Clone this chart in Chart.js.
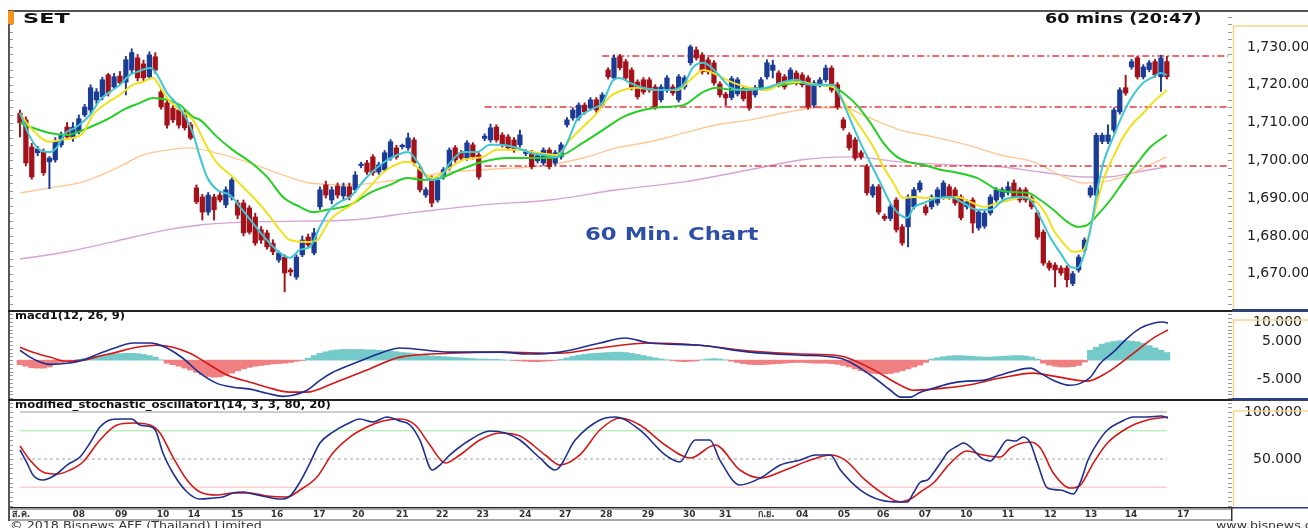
<!DOCTYPE html>
<html><head><meta charset="utf-8">
<script src="https://cdn.jsdelivr.net/npm/chart.js@4.4.1/dist/chart.umd.min.js"></script>
<style>
html,body{margin:0;padding:0;background:#fff;width:1308px;height:528px;overflow:hidden;position:relative;font-family:'DejaVu Sans',Arial,sans-serif;}
canvas{position:absolute;left:0;}
.t{position:absolute;white-space:nowrap;color:#111;font-weight:bold;z-index:5;line-height:1;transform-origin:0 0;}
.ln{position:absolute;z-index:6;}
</style></head><body>
<canvas id="cPrice" width="1318" height="299" style="top:11px;width:1318px;height:299px"></canvas>
<canvas id="cMacd" width="1318" height="88" style="top:311px;width:1318px;height:88px"></canvas>
<canvas id="cStoch" width="1318" height="121" style="top:400px;width:1318px;height:121px"></canvas>

<div class="ln" style="left:8px;top:10px;width:1300px;height:1.5px;background:#555"></div>
<div class="ln" style="left:8px;top:10px;width:1.5px;height:511px;background:#555"></div>
<div class="ln" style="left:8px;top:309.5px;width:1224px;height:2px;background:#222"></div>
<div class="ln" style="left:1232px;top:309px;width:76px;height:2px;background:#2a3d8c"></div>
<div class="ln" style="left:1232px;top:311px;width:76px;height:1px;background:#444"></div>
<div class="ln" style="left:8px;top:398.5px;width:1224px;height:2px;background:#222"></div>
<div class="ln" style="left:1232px;top:398px;width:76px;height:2px;background:#2a3d8c"></div>
<div class="ln" style="left:1232px;top:400px;width:76px;height:1px;background:#444"></div>

<div class="ln" style="left:8px;top:11px;width:6px;height:13px;background:#f7941d"></div>
<div class="t" style="left:23px;top:11px;font-size:14px;transform:scaleX(1.6);">SET</div>
<div class="t" style="left:1045px;top:11px;font-size:14px;transform:scaleX(1.26);">60 mins (20:47)</div>
<div class="t" style="left:585px;top:226px;font-size:17px;color:#2d4fa8;transform:scaleX(1.34);">60 Min. Chart</div>
<div class="t" style="left:15px;top:311px;font-size:10px;transform:scaleX(1.15);">macd1(12, 26, 9)</div>
<div class="t" style="left:15px;top:400px;font-size:10px;transform:scaleX(1.17);">modified_stochastic_oscillator1(14, 3, 3, 80, 20)</div>
<div class="t" style="left:10px;top:520px;font-size:11px;font-weight:normal;color:#333;transform:scaleX(1.15);">© 2018 Bisnews AFE (Thailand) Limited</div>
<div class="t" style="left:1216px;top:520px;font-size:11px;font-weight:normal;color:#333;transform:scaleX(1.15);">www.bisnews.com</div>

<script>
// ---------- DATA ----------
const xMin = -1.7, xMax = 205.4;
const dayLabels = ['ส.ค.','08','09','10','14','15','16','17','20','21','22','23','24','27','28','29','30','31','ก.ย.','04','05','06','07','10','11','12','13','14','17'];
const dayTickPos = [0.2,10.0,17.2,24.3,29.6,36.9,43.7,50.9,57.5,65.0,71.8,78.7,85.9,92.7,99.7,106.8,113.8,119.9,126.9,133.0,140.1,146.8,153.9,160.9,168.0,175.2,182.1,188.9,197.8];

const priceMin = 1660.4, priceMax = 1739.5;
const priceTicks = [1670,1680,1690,1700,1710,1720,1730];
const macdMin = -10.2, macdMax = 12.9;
const macdTicks = [10,5,-5];
const stochMin = -1.06, stochMax = 112.8;
const stochTicks = [100,50];
const stochLevels = [100,80,50,20];

// candles: [open, high, low, close]
const candles = [
[1712.5,1713.3,1706.2,1709.9],[1710.7,1711.5,1698.5,1699.3],[1703.5,1704.5,1695.0,1695.6],[1702.0,1703.7,1701.2,1703.0],
[1702.2,1703.0,1696.0,1696.7],[1699.6,1701.0,1692.5,1700.6],[1700.1,1706.0,1699.5,1704.9],[1704.1,1707.5,1703.5,1706.7],
[1708.8,1710.0,1705.5,1706.2],[1705.9,1710.0,1705.0,1708.8],[1707.5,1712.0,1707.0,1711.0],[1712.0,1714.8,1711.5,1714.1],
[1713.3,1720.0,1712.5,1719.2],[1716.0,1719.0,1715.0,1718.1],[1716.8,1722.0,1716.0,1721.3],[1722.6,1723.0,1717.0,1717.8],
[1719.4,1723.0,1719.0,1722.1],[1722.3,1723.5,1720.0,1720.5],[1720.7,1727.5,1717.3,1726.6],[1723.9,1729.5,1723.0,1728.5],
[1727.1,1728.0,1721.0,1721.8],[1725.5,1726.5,1721.0,1721.8],[1722.1,1728.7,1721.5,1727.9],[1727.4,1728.5,1723.0,1723.9],
[1718.1,1719.0,1713.5,1714.1],[1715.2,1716.0,1708.5,1709.3],[1713.8,1714.5,1710.0,1710.7],[1713.3,1714.0,1708.5,1709.3],
[1712.5,1713.5,1708.0,1708.6],[1709.4,1710.0,1705.5,1705.9],[1692.7,1693.5,1688.5,1689.0],[1690.3,1691.0,1684.2,1686.3],
[1686.3,1691.5,1685.5,1690.8],[1690.3,1691.0,1684.2,1686.9],[1690.8,1691.5,1689.0,1689.5],[1688.2,1693.0,1687.5,1692.2],
[1690.3,1695.3,1689.5,1694.8],[1688.7,1689.5,1684.5,1685.5],[1688.7,1689.5,1680.0,1680.8],[1687.4,1688.0,1680.5,1681.0],
[1685.0,1686.0,1677.5,1678.1],[1681.6,1682.5,1678.0,1678.9],[1680.8,1681.5,1676.5,1677.1],[1678.1,1679.0,1675.0,1675.8],
[1673.6,1676.0,1673.0,1675.5],[1674.4,1675.0,1665.2,1670.2],[1671.0,1671.5,1669.5,1670.5],[1669.1,1675.0,1668.5,1674.4],
[1675.0,1680.0,1674.5,1678.9],[1679.7,1680.5,1677.0,1677.6],[1675.5,1682.0,1675.0,1680.8],[1687.7,1693.0,1687.0,1692.2],
[1693.5,1694.5,1690.0,1690.8],[1689.5,1693.0,1688.5,1692.2],[1693.2,1694.0,1690.0,1690.8],[1690.6,1694.0,1689.5,1693.0],
[1693.0,1694.0,1689.5,1690.3],[1692.2,1697.0,1691.5,1696.1],[1698.6,1699.5,1698.0,1698.9],[1699.3,1700.0,1696.3,1696.9],
[1700.9,1701.5,1696.0,1696.7],[1696.9,1699.5,1696.3,1698.8],[1697.5,1702.6,1697.0,1702.0],[1700.6,1705.5,1700.0,1704.9],
[1703.3,1704.0,1700.3,1700.9],[1703.6,1704.3,1703.0,1703.8],[1703.3,1707.2,1702.7,1705.9],[1705.4,1706.0,1698.7,1699.3],
[1698.0,1698.6,1691.6,1692.2],[1690.8,1692.8,1690.2,1692.2],[1695.3,1695.9,1687.7,1688.7],[1689.5,1695.4,1688.9,1694.8],
[1695.6,1698.1,1695.0,1697.5],[1698.0,1703.3,1697.4,1702.7],[1703.3,1703.9,1699.5,1700.1],[1702.0,1702.6,1700.0,1700.6],
[1700.6,1705.2,1700.0,1704.6],[1704.1,1704.7,1700.3,1700.9],[1701.4,1702.0,1695.0,1695.6],[1705.8,1707.0,1705.2,1706.4],
[1705.4,1709.6,1704.8,1708.6],[1708.8,1709.4,1704.8,1705.4],[1706.7,1707.3,1703.5,1704.1],[1706.2,1706.8,1702.7,1703.3],
[1705.4,1706.0,1702.1,1702.7],[1704.1,1708.0,1703.5,1706.7],[1701.8,1702.8,1701.2,1702.2],[1702.0,1702.6,1697.7,1698.3],
[1699.9,1701.8,1699.3,1701.2],[1699.3,1703.3,1698.7,1702.7],[1702.7,1703.3,1697.7,1698.3],[1699.3,1702.6,1698.7,1702.0],
[1700.9,1704.7,1700.3,1704.1],[1709.4,1711.3,1708.8,1710.7],[1711.2,1713.9,1710.6,1713.3],[1711.2,1715.2,1710.6,1714.6],
[1714.6,1715.2,1712.2,1712.8],[1713.8,1716.6,1713.2,1716.0],[1716.0,1716.6,1712.7,1713.3],[1714.6,1717.9,1714.0,1717.3],
[1723.9,1724.5,1721.5,1722.1],[1721.8,1727.9,1721.2,1727.1],[1727.4,1728.0,1723.9,1724.5],[1726.1,1726.7,1721.2,1721.8],
[1723.9,1724.5,1718.6,1719.2],[1720.7,1721.3,1716.2,1716.8],[1721.3,1721.9,1717.5,1718.1],[1721.3,1721.9,1718.0,1718.6],
[1719.4,1720.0,1713.5,1714.1],[1716.0,1720.0,1715.4,1719.4],[1718.6,1722.4,1718.0,1721.8],[1719.4,1720.0,1717.2,1717.8],
[1716.0,1722.7,1715.4,1722.1],[1719.4,1722.4,1718.8,1721.8],[1725.8,1730.5,1725.2,1730.0],[1729.2,1730.0,1726.5,1727.1],
[1727.9,1728.5,1722.8,1723.4],[1726.6,1727.2,1722.8,1723.4],[1725.8,1726.4,1719.9,1720.5],[1720.2,1720.8,1716.7,1717.3],
[1717.5,1718.0,1714.5,1716.5],[1716.6,1722.2,1716.0,1721.6],[1717.6,1721.9,1717.0,1721.3],[1719.0,1719.6,1715.7,1716.3],
[1718.6,1719.2,1713.2,1713.8],[1717.3,1719.8,1716.7,1719.2],[1719.2,1721.9,1718.6,1721.3],[1722.1,1726.6,1721.5,1725.8],
[1723.8,1726.5,1721.8,1725.2],[1723.1,1723.7,1719.4,1720.0],[1722.1,1722.7,1718.8,1719.4],[1721.3,1724.5,1720.7,1723.9],
[1723.1,1723.7,1719.9,1720.5],[1722.6,1723.2,1719.4,1720.0],[1721.8,1722.4,1713.5,1714.1],[1714.6,1721.1,1714.0,1720.5],
[1720.0,1721.9,1719.4,1721.3],[1721.3,1725.2,1720.7,1724.4],[1724.4,1725.0,1718.0,1718.6],[1720.0,1720.6,1713.5,1714.1],
[1710.7,1711.3,1708.0,1708.6],[1706.7,1707.3,1702.7,1703.3],[1705.4,1706.0,1700.0,1700.6],[1702.0,1702.6,1700.3,1700.9],
[1698.3,1698.9,1690.8,1691.4],[1690.8,1693.6,1690.2,1693.0],[1693.0,1693.6,1685.7,1686.3],[1685.2,1685.8,1684.0,1684.6],
[1684.6,1688.3,1684.0,1687.7],[1689.5,1690.1,1681.0,1681.6],[1682.4,1683.0,1677.5,1678.1],[1682.4,1690.9,1677.1,1690.3],
[1687.7,1692.8,1687.1,1692.2],[1692.2,1694.6,1691.6,1694.0],[1687.7,1688.3,1685.5,1686.1],[1687.7,1690.9,1687.1,1690.3],
[1688.7,1692.8,1688.1,1692.2],[1690.3,1694.6,1689.7,1694.0],[1693.0,1693.6,1689.7,1690.3],[1692.2,1692.8,1688.1,1688.7],
[1690.3,1690.9,1684.2,1684.8],[1687.7,1689.6,1687.1,1689.0],[1689.5,1690.1,1680.8,1683.4],[1682.1,1686.9,1681.5,1686.3],
[1682.6,1686.6,1682.0,1686.0],[1686.1,1690.9,1685.5,1690.3],[1689.5,1692.8,1688.9,1692.2],[1690.3,1692.8,1689.7,1692.2],
[1691.4,1694.3,1690.8,1693.0],[1694.0,1694.8,1689.7,1690.3],[1692.2,1692.8,1688.9,1689.5],[1692.2,1692.8,1688.9,1689.5],
[1690.0,1690.6,1687.1,1687.7],[1686.1,1686.7,1679.1,1679.7],[1681.0,1681.6,1672.2,1672.8],[1672.8,1673.4,1670.9,1671.5],
[1672.3,1672.9,1666.5,1671.0],[1671.5,1672.1,1669.6,1670.2],[1671.5,1672.1,1666.5,1668.4],[1667.4,1670.6,1666.8,1670.0],
[1671.0,1675.0,1670.4,1674.4],[1676.3,1679.5,1675.7,1678.9],[1690.8,1693.3,1690.2,1692.7],[1690.8,1707.2,1690.2,1706.6],
[1705.0,1707.2,1704.4,1706.6],[1705.0,1709.4,1704.4,1706.7],[1708.0,1713.9,1707.4,1713.3],[1712.8,1719.2,1712.2,1718.6],
[1719.2,1722.5,1717.2,1717.8],[1724.7,1726.7,1724.1,1726.1],[1727.1,1727.5,1721.5,1722.1],[1722.1,1725.3,1721.5,1724.7],
[1724.0,1726.4,1723.4,1725.8],[1726.1,1726.7,1722.0,1722.6],[1722.1,1727.8,1718.2,1727.1],[1726.1,1727.5,1721.5,1722.1]
];

// moving averages: [candle index, price]
const maCyan = [[0,1712.5],[1.7,1706.2],[3.4,1702.7],[5.1,1702.2],[6.3,1703.5],[7.7,1707.2],[9.4,1708.6],[11.9,1712],[13.6,1716],[15.3,1718.1],[17,1720],[18.7,1722.6],[19.9,1723.4],[22.1,1724.4],[23,1723.4],[23.8,1721.3],[25,1717.8],[26.4,1715.4],[28.4,1710.7],[29.4,1707.2],[30.6,1700.9],[31.8,1695.6],[33.5,1692.2],[35.7,1690.8],[37.4,1687.7],[39.6,1683.4],[42,1678.9],[44.2,1675.5],[45.9,1674.2],[47.6,1676.3],[49.3,1677.1],[51,1682.4],[52.7,1686.9],[54.4,1689],[56.1,1690.3],[59,1695.6],[61.7,1699.3],[64.1,1701.4],[66,1702.2],[67.7,1699.3],[69.7,1694.8],[71.4,1695.3],[73.1,1699.3],[75.3,1702.2],[77.7,1702.2],[79.9,1704.1],[81.6,1704.1],[84.5,1703.3],[86.7,1702],[88.9,1701.4],[91.3,1700.9],[93,1704.6],[94.7,1710.7],[96.9,1713.3],[99.1,1715.4],[100.9,1721.3],[102,1721.8],[103.7,1720.5],[106,1719.2],[108.3,1718.6],[110.5,1718.6],[112.8,1720],[114.5,1724.7],[116.2,1725.8],[118.5,1723.1],[120.7,1719.4],[123,1718.6],[127,1719.2],[129.8,1720.7],[132.1,1721.3],[134.4,1720],[138.3,1720],[139.5,1716.8],[141.2,1710.7],[142.9,1704.6],[144.6,1699.3],[146.3,1694],[148,1688.7],[149.7,1685.5],[150.9,1684.8],[151.9,1687.4],[153.6,1688.7],[156,1690],[158.2,1690.3],[160.4,1688.7],[162.8,1686.9],[165,1686.9],[167.2,1689.5],[169.6,1690.3],[171.8,1689.5],[173.5,1684.8],[175.2,1679.5],[176.9,1675.5],[178.6,1671.8],[179.8,1671.5],[180.8,1674.4],[182,1681.6],[183.2,1692.2],[184.2,1699.3],[185.9,1706.2],[187.6,1712.5],[189.3,1717.3],[191,1720.5],[192.7,1722.1],[193.9,1723.1],[195,1722.6]];
const maYellow = [[0,1712.5],[1.7,1708.8],[5.1,1704.9],[6.8,1705.4],[9,1705.9],[10.7,1707.2],[12.4,1712],[14.8,1715.2],[17,1717.3],[19.2,1720],[20.9,1720.7],[22.6,1721.8],[23.8,1719.4],[25,1716.5],[27.2,1713.3],[29.4,1710.7],[31.8,1703.5],[33.5,1699.3],[36.2,1695.6],[39.6,1690.3],[42,1686.1],[44.2,1681.6],[45.9,1678.9],[48.8,1678.4],[50.5,1678.9],[52.7,1684.2],[54.9,1686.9],[56.1,1687.9],[59,1692.2],[61.7,1696.7],[64.6,1699.3],[66.3,1699.6],[68,1697.5],[70.2,1695.3],[72.6,1697.5],[75.3,1700.1],[78.7,1700.9],[81.1,1702.8],[84.5,1702.8],[87.9,1702],[91.3,1701.4],[93.5,1705.4],[95.7,1708.8],[98.1,1712.5],[100.3,1716.8],[102.6,1718.6],[104.9,1719.2],[108.3,1718.6],[111.7,1718.6],[114,1721.3],[116.2,1723.9],[118.5,1722.6],[121.3,1720.5],[124.1,1719.2],[127,1718.6],[129.8,1720.5],[132.7,1720.7],[135.5,1720],[138.3,1719.4],[140.6,1714.1],[142.9,1708.8],[145.1,1703.5],[146.8,1698.3],[148.5,1694],[150.2,1690],[151.9,1690.3],[154.3,1690],[157,1690],[159.4,1690.3],[161.6,1689],[163.8,1687.7],[166.2,1688.7],[168.4,1689.5],[170.6,1690.3],[173,1688.7],[174.7,1685],[175.7,1681.6],[177.4,1678.1],[179.1,1675.8],[180.8,1676.3],[182.5,1685],[184.2,1694.8],[185.9,1700.9],[187.6,1706.2],[189.3,1709.9],[191,1712.5],[192.7,1715.4],[195,1718.6]];
const maGreen = [[0,1709.9],[2.2,1708.6],[5.1,1707.2],[8,1706.7],[10.7,1708],[13.1,1709.6],[15.3,1711.2],[17.5,1713.3],[20.4,1715.2],[22.6,1716.5],[25,1716],[27.2,1714.6],[29.4,1711.5],[30.6,1710.7],[33.5,1706.2],[36.2,1702.7],[39.1,1699.6],[42,1695.6],[44.7,1690.3],[47.6,1687.7],[49.8,1686.3],[52.2,1686.9],[56.1,1688.2],[59.5,1691.4],[62.9,1693.5],[65.8,1695.3],[68.5,1694.8],[71.4,1695.3],[74.8,1697.5],[78.7,1699.6],[82.8,1700.6],[86.7,1700.6],[90.1,1700.6],[92.3,1701.4],[95.7,1704.6],[99.1,1708],[102.6,1711.5],[106,1713.3],[109.4,1714.1],[112.8,1714.6],[116.2,1718.1],[118.5,1719.2],[121.3,1718.6],[124.1,1718.9],[127,1719.2],[129.8,1720],[132.7,1720.5],[135.5,1720],[138.3,1719.4],[140,1717.8],[142.3,1714.6],[144.6,1709.9],[146.8,1704.6],[149.1,1700.9],[150.9,1699.6],[153.6,1698.8],[156.5,1697.5],[159.4,1696.7],[162.8,1695.3],[166.2,1692.2],[168.4,1691.6],[171.3,1691.4],[173.5,1689.5],[175.7,1686.9],[178.1,1683.7],[179.8,1682.4],[181.5,1682.9],[183.2,1685.5],[185.4,1689.5],[187.6,1694.3],[190,1699.3],[192.2,1703.5],[195,1706.7]];
const maOrange = [[0,1691.4],[5.1,1692.7],[10.7,1694.3],[16.5,1698],[20.9,1701.4],[25,1702.7],[28.9,1703.3],[33.5,1701.9],[39.1,1699.3],[44.7,1696.1],[49.3,1694],[56.1,1693.5],[61.7,1694.3],[67.5,1695.6],[73.1,1696.9],[78.7,1697.5],[84.5,1698],[90.1,1698.8],[95.7,1700.6],[101.5,1703.3],[107.1,1704.9],[112.8,1707.2],[118.5,1709.4],[124.1,1710.7],[129.8,1712.5],[135.5,1713.9],[140,1713.9],[144,1711.5],[149.7,1708],[155.3,1706.2],[161,1704.1],[166.7,1701.4],[172.3,1699.6],[176.9,1696.1],[180.8,1694],[184.2,1694.3],[187.6,1695.6],[191,1698],[195,1700.9]];
const maPurple = [[0,1673.9],[8,1675.8],[16.5,1678.7],[25,1681.6],[30.6,1682.9],[39.1,1683.7],[47.6,1683.9],[56.1,1684.2],[67.5,1686.3],[78.7,1688.2],[90.1,1689.5],[101.5,1692.2],[112.8,1694.3],[124.1,1697.5],[132.7,1700.1],[141.2,1700.9],[149.7,1699.6],[158.2,1698.8],[166.7,1698.3],[173.5,1696.9],[180.8,1695.6],[184.9,1695.6],[189.3,1696.7],[195,1698.3]];

// resistance / support levels
const levelValue = [1727.6, 1714.1, 1698.5];
const levelStart = [99, 79, 79];

// MACD
const macdLine = [[0,2.6],[1.7,0.8],[3.4,-0.5],[5.1,-1.1],[8,-0.8],[10.7,0],[13.6,1.8],[16.5,3.4],[19.2,4.5],[22.1,4.5],[23.3,4.2],[25,3.2],[27.7,0.5],[30.6,-3.4],[33.5,-6.1],[36.2,-7.1],[39.1,-7.6],[42,-8.7],[44.7,-9.5],[46.4,-9.2],[48.8,-7.9],[51,-5.3],[53.2,-3.2],[56.1,-1.3],[59,0.5],[61.7,2.1],[64.6,3.2],[73.1,2.1],[81.6,2.1],[86.7,1.6],[91.8,2.1],[98.6,4.5],[102.9,5.8],[107.1,4.5],[115.6,3.9],[124.1,2.1],[132.7,1.3],[139.5,0.5],[144.6,-3.9],[148,-7.9],[149.7,-9.7],[151.4,-9.7],[153.1,-8.4],[155.3,-7.4],[158.2,-6.1],[161,-5.5],[163.8,-5.3],[166.7,-3.9],[168.9,-2.9],[171.8,-2.1],[173.5,-3.4],[175.7,-5.3],[178.6,-6.6],[180.3,-6.1],[182,-4.5],[183.7,-0.8],[185.9,2.1],[188.3,5.8],[190.5,8.4],[192.7,9.7],[194.4,10],[195.2,9.7]];
const macdSignal = [[0,3.4],[2.2,2.1],[5.1,0.8],[8,-0.3],[10.7,0],[13.6,1.1],[16.5,2.1],[19.2,3.2],[23.3,3.9],[26,3.4],[28.9,1.8],[31.8,-0.8],[35.2,-3.9],[39.1,-5.8],[42,-7.1],[45.9,-8.4],[48.8,-8.4],[53.2,-6.1],[59,-2.6],[64.6,0.8],[73.1,1.8],[81.6,2.1],[91.8,1.8],[98.6,3.2],[107.1,4.5],[115.6,3.9],[124.1,2.4],[132.7,1.6],[139.5,1.1],[144.6,-2.1],[149.7,-6.6],[151.9,-7.9],[155.3,-7.6],[161,-6.6],[166.7,-4.7],[172.3,-3.4],[175.7,-4.2],[181.5,-5.5],[184.9,-3.2],[189.3,1.8],[192.7,5.8],[195.2,7.9]];
const macdHist = [
-1.2,-1.6,-2.0,-2.1,-2.1,-1.8,-1.2,-0.6,-0.3,-0.1,
0.2,0.5,0.8,1.1,1.3,1.5,1.6,1.7,1.8,1.8,1.7,1.5,1.2,0.8,
0.1,-0.8,-1.2,-1.6,-2.1,-2.6,-3.2,-3.8,-4.3,-4.5,-4.4,-4.0,-3.4,-2.8,-2.3,-1.9,-1.6,-1.4,-1.2,-1.0,-0.9,-0.8,-0.6,-0.3,-0.1,
0.5,1.2,1.8,2.2,2.5,2.7,2.8,2.8,2.8,2.8,2.7,2.7,2.6,2.5,2.4,2.2,2.0,1.9,1.7,1.5,1.3,1.1,1.0,0.9,0.8,0.7,0.6,0.5,0.4,0.3,0.3,0.2,0.2,0.1,0.0,-0.1,-0.2,-0.3,-0.4,-0.4,-0.3,-0.2,-0.1,
0.2,0.6,1.0,1.3,1.5,1.7,1.8,1.9,2.0,2.1,2.1,2.0,1.8,1.5,1.2,0.9,0.6,0.3,0.1,-0.1,-0.3,-0.4,-0.3,-0.2,0.1,0.3,0.4,0.3,0.1,-0.3,
-0.6,-0.9,-1.1,-1.2,-1.2,-1.1,-1.0,-0.9,-0.8,-0.7,-0.6,-0.6,-0.7,-0.8,-0.8,-0.8,-0.9,-1.1,-1.4,-1.8,-2.3,-2.8,-3.2,-3.5,-3.6,-3.6,-3.5,-3.2,-2.8,-2.3,-1.8,-1.3,
-0.6,0.3,0.6,0.9,1.1,1.2,1.2,1.1,1.0,0.9,0.8,0.8,0.9,1.0,1.1,1.2,1.2,1.1,0.8,0.3,
-0.8,-1.3,-1.6,-1.8,-1.8,-1.7,-1.4,-0.5,
2.6,3.4,4.2,4.6,4.9,5.1,5.1,5.0,4.8,4.4,3.8,3.2,2.6,2.0
];

// Stochastic
const stochK = [[0,59.6],[1.2,45.7],[2.2,33],[3.9,27.7],[6,33],[8,43.6],[10.2,52.1],[11.9,67],[13.6,84],[15.3,91.5],[17,92.6],[19,92.6],[20.4,86.2],[21.6,85.1],[23,80.9],[24.3,56.4],[26,35.1],[28.4,14.9],[30.6,7.4],[32.8,8.5],[34.5,9.6],[36.2,13.8],[37.9,14.9],[39.6,12.8],[42,9.6],[44.2,7.4],[45.9,10.6],[47.6,25.5],[49.3,45.7],[51,67],[53.2,78.7],[55.6,87.2],[57.8,92.6],[60,89.4],[62.4,94.7],[64.6,90.4],[66.3,86.2],[68,70.2],[70.1,38.3],[71.4,43.6],[73.1,54.3],[76.5,70.2],[79.9,79.8],[82.5,77.7],[85,70.2],[88.4,51.1],[91,38.3],[94.4,70.2],[98.6,91.5],[101.2,94.7],[105.4,80.9],[109.7,54.3],[112.2,46.8],[114.8,70.2],[117.3,70.2],[119,48.9],[122.4,22.3],[125.9,29.8],[129.3,43.6],[132.7,48.9],[135.2,54.3],[137.8,54.3],[139.5,38.3],[142.9,17],[146.3,6.4],[149.7,4.3],[150.9,4.3],[151.9,13.8],[153.1,25.5],[154.3,27.7],[155.3,35.1],[156.5,45.7],[157.8,57.4],[159.4,63.8],[160.4,67],[161.6,62.8],[163.3,52.1],[165,47.9],[166.2,56.4],[167.9,70.2],[169.2,69.1],[170.6,73.4],[171.8,67],[173,45.7],[174.7,19.1],[176.9,17],[179.1,12.8],[180.3,25.5],[181.6,48.9],[183.2,67],[184.9,80.9],[187.1,89.4],[189.3,94.7],[191.7,94.7],[194,95.7],[195.2,93.6]];
const stochD = [[0,63.8],[1.7,48.9],[3.9,36.2],[6.3,34],[8.5,38.3],[10.7,46.8],[13.6,70.2],[16.5,86.2],[19.2,88.3],[22.1,86.2],[23.8,77.7],[26,52.1],[28.4,27.7],[30.6,14.9],[33.5,11.7],[36.2,13.8],[39.1,13.8],[42,10.6],[45.4,9.6],[47.6,17],[50.5,30.9],[53.2,56.4],[56.1,73.4],[59,84],[61.7,90.4],[64.6,92.6],[67.2,86.2],[69.7,64.9],[72.3,45.7],[74.8,54.3],[78.2,70.2],[81.6,77.7],[85,74.5],[89.3,54.3],[91.8,43.6],[95.2,54.3],[98.6,80.9],[102,93.6],[105.4,86.2],[109.7,64.9],[114,51.1],[118.2,64.9],[122.4,38.3],[125.9,29.8],[130.1,38.3],[134.4,48.9],[137.8,54.3],[140.3,48.9],[143.7,27.7],[147.1,11.7],[149.7,4.3],[151.4,7.4],[153.1,14.9],[155.3,24.5],[158.2,45.7],[161,58.5],[163.8,54.3],[166.7,52.1],[168.4,61.7],[171.8,68.1],[173.5,61.7],[175.7,35.1],[178.6,19.1],[180.3,22.3],[182.5,45.7],[184.9,67],[188.3,83],[191.7,91.5],[195.2,94.7]];

// ---------- CHARTS ----------
const UP = '#1b3b94', DOWN = '#a3111a';
const FONT = "'DejaVu Sans', 'Liberation Sans', Arial, sans-serif";
const fmt = v => Number(v).toLocaleString('en-US', {minimumFractionDigits: 3, maximumFractionDigits: 3});
const pts = arr => arr.map(p => ({x: p[0], y: p[1]}));

function xScale(show) {
  const s = {type: 'linear', min: xMin, max: xMax, offset: false, display: show,
    grid: {display: false, drawTicks: false}, border: {display: false}};
  if (show) {
    s.ticks = {autoSkip: false, maxRotation: 0, padding: 2, color: '#333',
      font: {family: FONT, size: 9, weight: 'bold'}, callback: (v, i) => dayLabels[i]};
    s.afterBuildTicks = sc => { sc.ticks = dayTickPos.map(v => ({value: v})); };
    s.afterFit = sc => { sc.height = 14; sc.paddingLeft = 0; sc.paddingRight = 0; };
  }
  return s;
}
function yScale(min, max, ticks, pad, far, width) {
  return {type: 'linear', position: 'right', min, max, beginAtZero: false,
    grid: {display: false, drawTicks: false}, border: {display: false},
    ticks: {padding: pad, crossAlign: far ? 'far' : 'near', color: '#222',
      font: {family: FONT, size: 14}, callback: v => fmt(v)},
    afterBuildTicks: s => { s.ticks = ticks.map(v => ({value: v})); },
    afterFit: s => { s.width = width; s.paddingTop = 0; s.paddingBottom = 0; }};
}
function deco(boxTop, minorStep, band) {
  return {id: 'deco', afterDraw(chart) {
    const {ctx, chartArea: a} = chart; const y = chart.scales.y;
    ctx.save();
    ctx.strokeStyle = '#9a9a9a'; ctx.lineWidth = 1;
    ctx.beginPath();
    for (let v = Math.ceil(y.min / minorStep) * minorStep; v <= y.max; v += minorStep) {
      const py = Math.round(y.getPixelForValue(v)) + 0.5;
      ctx.moveTo(a.right, py); ctx.lineTo(a.right + 4, py);
      ctx.moveTo(a.left - 1, py); ctx.lineTo(a.left + 3, py);
    }
    ctx.stroke();
    ctx.strokeStyle = '#f3d68a'; ctx.lineWidth = 1.5;
    ctx.beginPath(); ctx.moveTo(1233.5, a.bottom); ctx.lineTo(1233.5, boxTop); ctx.lineTo(1320, boxTop); ctx.stroke();
    if (band) {
      const H = chart.height;
      ctx.fillStyle = '#222'; ctx.fillRect(8, a.bottom, 1224, 1.5);
      ctx.fillStyle = '#2a3d8c'; ctx.fillRect(1232, a.bottom, 80, 1.5);
      ctx.fillStyle = '#a8a8a8'; ctx.fillRect(8, a.bottom + 1.5, 1224, 1.5);
      ctx.fillRect(8, H - 2, 1224, 2);
      ctx.fillStyle = '#333'; ctx.fillRect(1231, a.bottom, 1.5, H - a.bottom);
    }
    ctx.restore();
  }};
}
const baseOpts = (scales, padRight) => ({responsive: false, animation: false, devicePixelRatio: 1,
  layout: {padding: {left: 10, right: padRight, top: 0, bottom: 0}},
  plugins: {legend: {display: false}, tooltip: {enabled: false}},
  scales});
const lineDs = (data, color, width, order, extra) => Object.assign({type: 'line', data, borderColor: color,
  borderWidth: width, pointRadius: 0, fill: false, tension: 0.3, cubicInterpolationMode: 'monotone', order}, extra || {});

// Price chart
const isUp = candles.map(c => c[3] >= c[0]);
const priceDatasets = [
  {type: 'bar', data: candles.map((c, i) => ({x: i, y: [c[2], c[1]]})), backgroundColor: isUp.map(u => u ? UP : DOWN),
    barThickness: 1.3, grouped: false, order: 8, minBarLength: 1},
  {type: 'bar', data: candles.map((c, i) => ({x: i, y: [c[0], c[3]]})), backgroundColor: isUp.map(u => u ? UP : DOWN),
    barThickness: 4.6, grouped: false, order: 7, minBarLength: 1.5},
  lineDs(pts(maPurple), '#d8a2d8', 1.4, 11),
  lineDs(pts(maOrange), '#ffc794', 1.4, 10),
  lineDs(pts(maGreen), '#25cf25', 2, 3),
  lineDs(pts(maYellow), '#efe11e', 2, 2),
  lineDs(pts(maCyan), '#3ec6d3', 2, 1)
];
levelValue.forEach((v, k) => priceDatasets.push(lineDs([{x: levelStart[k], y: v}, {x: xMax, y: v}], '#e8383d', 1.4, 9,
  {tension: 0, borderDash: [7, 3, 2, 3]})));
new Chart(document.getElementById('cPrice'), {type: 'bar', data: {datasets: priceDatasets},
  options: baseOpts({x: xScale(false), y: yScale(priceMin, priceMax, priceTicks, 19, false, 90)}, 0),
  plugins: [deco(15, 2, false)]});

// MACD chart
new Chart(document.getElementById('cMacd'), {type: 'bar', data: {datasets: [
  {type: 'bar', data: macdHist.map((v, i) => ({x: i, y: v})), backgroundColor: macdHist.map(v => v >= 0 ? '#74c9c9' : '#ef7f80'),
    barThickness: 6, grouped: false, order: 5},
  lineDs(pts(macdSignal), '#d41717', 1.6, 2),
  lineDs(pts(macdLine), '#1f2f8f', 1.6, 1)
]}, options: baseOpts({x: xScale(false), y: yScale(macdMin, macdMax, macdTicks, 10, true, 74)}, 16),
  plugins: [deco(9, 1, false)]});

// Stochastic chart
const levelColors = {100: '#9a9a9a', 80: '#9be89b', 50: '#a0a0a0', 20: '#ffb8b8'};
const stochDatasets = stochLevels.map(v => lineDs([{x: 0, y: v}, {x: 195, y: v}], levelColors[v], 1, 9,
  {tension: 0, borderDash: v === 50 ? [3, 3] : []}));
stochDatasets.push(lineDs(pts(stochD), '#d41717', 1.6, 2));
stochDatasets.push(lineDs(pts(stochK), '#1f2f8f', 1.6, 1));
new Chart(document.getElementById('cStoch'), {type: 'line', data: {datasets: stochDatasets},
  options: baseOpts({x: xScale(true), y: yScale(stochMin, stochMax, stochTicks, 10, true, 74)}, 16),
  plugins: [deco(11, 5, true)]});
</script>
</body></html>
